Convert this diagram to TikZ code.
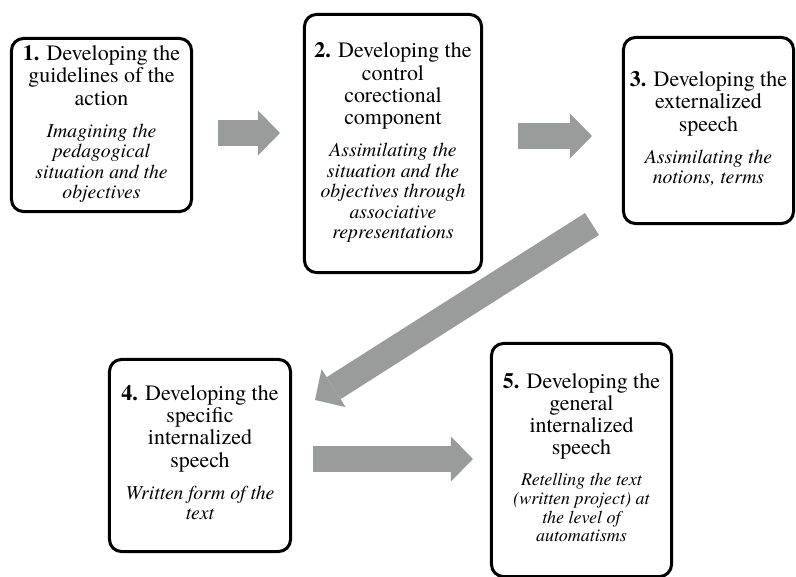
\documentclass[tikz,border=0pt]{standalone}
\usepackage{fontspec}
\setmainfont{TeX Gyre Termes}
\usetikzlibrary{arrows.meta}
\definecolor{flowgray}{RGB}{154,156,156}
\newcommand{\headfont}{\fontsize{15.6}{15.8}\selectfont}
% heading lines above, italic note below
\newcommand{\stagetext}[3][14]{%
  {\headfont\begin{tabular}{@{}c@{}}#2\end{tabular}}\\[7pt]
  {\fontsize{#1}{#1}\selectfont\itshape\renewcommand{\arraystretch}{1.04}%
   \begin{tabular}{@{}c@{}}#3\end{tabular}}}
\tikzset{
  stage/.style={draw, line width=0.075cm, rounded corners=0.3cm, align=center, inner sep=0pt},
  flow/.style={flowgray, line width=0.65cm, -{Triangle[length=0.55cm, width=1.125cm, line width=0pt]}}
}

\begin{document}
\begin{tikzpicture}[x=0.025cm, y=-0.025cm]
\useasboundingbox (0,0) rectangle (796,577);

\node[stage, minimum width=4.5cm, minimum height=4.325cm] (s1) at (101.5,125)
  {\stagetext{\textbf{1.} Developing the\\guidelines of the\\action}{Imagining the\\pedagogical\\situation and the\\objectives}};
\node[stage, minimum width=4.425cm, minimum height=6.45cm] (s2) at (393,143.5)
  {\stagetext{\textbf{2.} Developing the\\control\\corectional\\component}{Assimilating the\\situation and the\\objectives through\\associative\\representations}};
\node[stage, minimum width=4.25cm, minimum height=4.65cm] (s3) at (708.5,130.5)
  {\stagetext{\textbf{3.} Developing the\\externalized\\speech}{Assimilating the\\notions, terms}};
\node[stage, minimum width=4.525cm, minimum height=4.8cm] (s4) at (200,455.5)
  {\stagetext{\textbf{4.} Developing the\\specific\\internalized\\speech}{Written form of the\\text}};
\node[stage, minimum width=4.5cm, minimum height=5.825cm] (s5) at (581.5,460)
  {\stagetext[12.8]{\textbf{5.} Developing the\\general\\internalized\\speech}{Retelling the text\\(written project) at\\the level of\\automatisms}};

% block arrows between the stages
\draw[flow, shorten <=0.625cm, shorten >=0.575cm] (s1.east |- 0,133) -- (s2.west |- 0,133);
\draw[flow, shorten <=0.875cm, shorten >=0.75cm] (s2.east |- 0,136) -- (s3.west |- 0,136);
\draw[flow] ([shift={(-30,-1)}]s3.south west) -- ([shift={(23,42)}]s4.north east);
\draw[flow, shorten <=0.525cm, shorten >=0.425cm] (s4.east |- 0,459) -- (s5.west |- 0,459);
\end{tikzpicture}
\end{document}
